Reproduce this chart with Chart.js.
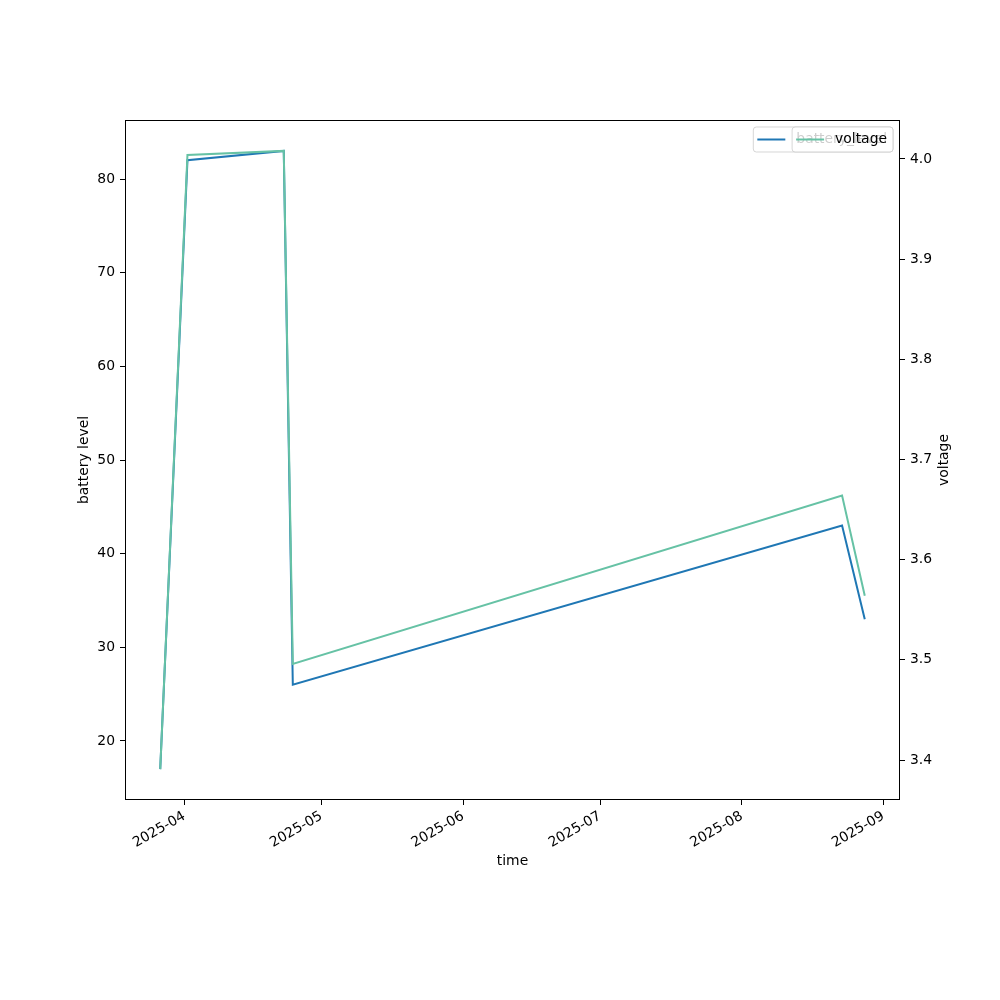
<!DOCTYPE html>
<html>
<head>
<meta charset="utf-8">
<script src="https://cdn.jsdelivr.net/npm/chart.js@4/dist/chart.umd.min.js"></script>
<style>
  html, body { margin: 0; padding: 0; background: #ffffff; }
  #wrap { width: 1000px; height: 1000px; }
</style>
</head>
<body>
<div id="wrap"><canvas id="c" width="1000" height="1000"></canvas></div>
<script>
// ---- data ----
const times = ['2025-03-26T17:00:00Z', '2025-04-01T16:00:00Z', '2025-04-22T18:00:00Z',
               '2025-04-24T17:30:00Z', '2025-08-22T23:00:00Z', '2025-08-27T22:20:00Z'];
const batteryLevel = [17, 82, 83, 26, 43, 33];
const voltage = [3.391, 4.004, 4.008, 3.496, 3.664, 3.564];

const monthTicks = ['2025-04', '2025-05', '2025-06', '2025-07', '2025-08', '2025-09'];
const batteryTicks = [20, 30, 40, 50, 60, 70, 80];
const voltageTicks = [3.4, 3.5, 3.6, 3.7, 3.8, 3.9, 4.0];

const seriesLabels = ['battery_level', 'voltage'];
const seriesColors = ['#1f77b4', '#66c2a5'];
const axisTitles = { x: 'time', y: 'battery level', y1: 'voltage' };

// ---- helpers ----
const xs = times.map(t => Date.parse(t));
function padRange(arr) {
  const lo = Math.min(...arr), hi = Math.max(...arr), m = (hi - lo) * 0.05;
  return [lo - m, hi + m];
}
const xR = padRange(xs), bR = padRange(batteryLevel), vR = padRange(voltage);
const monthValues = monthTicks.map(m => Date.parse(m + '-01T00:00:00Z'));

const FONT = 'DejaVu Sans';
const FS = 13.9;
Chart.defaults.font.family = FONT;
Chart.defaults.font.size = FS;
Chart.defaults.color = '#000000';

const tickGrid = { display: true, drawOnChartArea: false, drawTicks: true, tickLength: 5, tickColor: '#000', tickWidth: 1 };

const framePlugin = {
  id: 'frame',
  afterDatasetsDraw(chart) {
    const a = chart.chartArea, ctx = chart.ctx;
    ctx.save();
    ctx.strokeStyle = '#000';
    ctx.lineWidth = 1;
    ctx.strokeRect(Math.round(a.left) + 0.5, Math.round(a.top) + 0.5,
                   Math.round(a.right - a.left) - 1, Math.round(a.bottom - a.top) - 1);
    // right axis title, reading bottom-to-top like matplotlib
    ctx.font = FS + 'px "' + FONT + '"';
    ctx.fillStyle = '#000';
    ctx.textAlign = 'center';
    ctx.textBaseline = 'middle';
    ctx.translate(chart.scales.y1.right - 56, (a.top + a.bottom) / 2);
    ctx.rotate(-Math.PI / 2);
    ctx.fillText(axisTitles.y1, 0, 0);
    ctx.restore();
  }
};

function roundRect(ctx, x, y, w, h, r) {
  ctx.beginPath();
  ctx.moveTo(x + r, y);
  ctx.lineTo(x + w - r, y);
  ctx.quadraticCurveTo(x + w, y, x + w, y + r);
  ctx.lineTo(x + w, y + h - r);
  ctx.quadraticCurveTo(x + w, y + h, x + w - r, y + h);
  ctx.lineTo(x + r, y + h);
  ctx.quadraticCurveTo(x, y + h, x, y + h - r);
  ctx.lineTo(x, y + r);
  ctx.quadraticCurveTo(x, y, x + r, y);
  ctx.closePath();
}

// two overlapping matplotlib-style legends at upper right
const legendPlugin = {
  id: 'mplLegends',
  afterDraw(chart) {
    const ctx = chart.ctx, a = chart.chartArea;
    ctx.save();
    ctx.font = FS + 'px "' + FONT + '"';
    ctx.textBaseline = 'middle';
    const boxRight = a.right - 7, boxTop = a.top + 7, boxH = 25;
    chart.data.datasets.forEach((ds) => {
      const tw = ctx.measureText(ds.label).width;
      const w = 43 + tw + 6;
      const x0 = boxRight - w;
      roundRect(ctx, x0, boxTop, w, boxH, 3);
      ctx.fillStyle = 'rgba(255,255,255,0.8)';
      ctx.fill();
      ctx.strokeStyle = 'rgba(204,204,204,0.8)';
      ctx.lineWidth = 1;
      ctx.stroke();
      const cy = boxTop + boxH / 2;
      ctx.strokeStyle = ds.borderColor;
      ctx.lineWidth = 2;
      ctx.beginPath();
      ctx.moveTo(x0 + 4, cy);
      ctx.lineTo(x0 + 32, cy);
      ctx.stroke();
      ctx.fillStyle = '#000';
      ctx.textAlign = 'left';
      ctx.fillText(ds.label, x0 + 43, cy);
    });
    ctx.restore();
  }
};

new Chart(document.getElementById('c'), {
  type: 'line',
  data: {
    datasets: [
      { label: seriesLabels[0], data: xs.map((x, i) => ({ x, y: batteryLevel[i] })),
        borderColor: seriesColors[0], backgroundColor: seriesColors[0], yAxisID: 'y', order: 1 },
      { label: seriesLabels[1], data: xs.map((x, i) => ({ x, y: voltage[i] })),
        borderColor: seriesColors[1], backgroundColor: seriesColors[1], yAxisID: 'y1', order: 0 }
    ]
  },
  options: {
    responsive: false,
    animation: false,
    devicePixelRatio: 1,
    layout: { padding: { top: 120, left: 0, right: 0, bottom: 0 } },
    elements: { line: { borderWidth: 2, tension: 0 }, point: { radius: 0, hoverRadius: 0 } },
    plugins: { legend: { display: false }, tooltip: { enabled: false } },
    scales: {
      x: {
        type: 'linear', position: 'bottom', min: xR[0], max: xR[1],
        afterBuildTicks: s => { s.ticks = monthValues.map(v => ({ value: v })); },
        afterFit: s => { s.height = 200; },
        ticks: { autoSkip: false, minRotation: 30, maxRotation: 30, padding: 3,
                 callback: (v, i) => monthTicks[i] },
        grid: tickGrid,
        border: { display: false },
        title: { display: true, text: axisTitles.x, padding: { top: 0, bottom: 130.7 } }
      },
      y: {
        type: 'linear', position: 'left', min: bR[0], max: bR[1],
        afterBuildTicks: s => { s.ticks = batteryTicks.map(v => ({ value: v })); },
        afterFit: s => { s.width = 125; },
        ticks: { padding: 5, callback: v => String(v) },
        grid: tickGrid,
        border: { display: false },
        title: { display: true, text: axisTitles.y, padding: { top: 75.7, bottom: 0 } }
      },
      y1: {
        type: 'linear', position: 'right', min: vR[0], max: vR[1],
        afterBuildTicks: s => { s.ticks = voltageTicks.map(v => ({ value: v })); },
        afterFit: s => { s.width = 100; },
        ticks: { padding: 5, callback: v => Number(v).toFixed(1) },
        grid: tickGrid,
        border: { display: false },
        title: { display: false }
      }
    }
  },
  plugins: [framePlugin, legendPlugin]
});
</script>
</body>
</html>
